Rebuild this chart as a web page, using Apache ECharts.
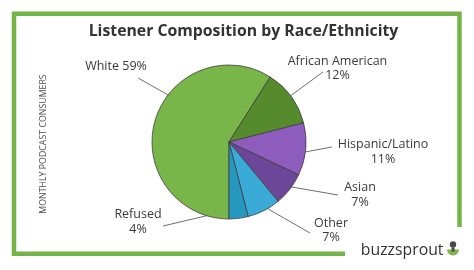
<!DOCTYPE html>
<html>
<head>
<meta charset="utf-8">
<script src="https://cdn.jsdelivr.net/npm/echarts@6/dist/echarts.min.js"></script>
<style>
html,body{margin:0;padding:0;background:#fff;}
#chart{width:474px;height:270px;}
</style>
</head>
<body>
<div id="chart"></div>
<script>
// ---- data ----
var categories = ['White', 'African American', 'Hispanic/Latino', 'Asian', 'Other', 'Refused'];
var shares = [59, 12, 11, 7, 7, 4];
var sliceColors = ['#78b649', '#558a2d', '#8d5cbd', '#6c4799', '#3aabd6', '#2697bf'];
var titleText = 'Listener Composition by Race/Ethnicity';
var axisNote = 'MONTHLY PODCAST CONSUMERS';
var brandText = 'buzzsprout';

// ---- layout ----
var CX = 229, CY = 142, R = 77, START = 270; // start at 6 o'clock, clockwise
// label centre, line anchor, line inner depth (fraction of R) and angle tweak
var labelLayouts = [
  {x: 116, y: 66.5, lx: 138, ly: 78, depth: 0.53, dAng: 29, oneLine: true},
  {x: 337.5, y: 68.5, lx: 323, ly: 72, depth: 0.83, dAng: -1},
  {x: 383, y: 152, lx: 332, ly: 147, depth: 0.77, dAng: 7.6},
  {x: 360, y: 195, lx: 338, ly: 195, depth: 0.79, dAng: 5.6},
  {x: 331, y: 230.5, lx: 310, ly: 233, depth: 0.86, dAng: 2.5},
  {x: 138, y: 222, lx: 163, ly: 226, depth: 0.87, dAng: 0}
];

var total = shares.reduce(function (a, b) { return a + b; }, 0);
var midAngles = [];
(function () {
  var acc = 180; // clockwise from 12 o'clock
  shares.forEach(function (v) {
    var span = v / total * 360;
    midAngles.push(acc + span / 2);
    acc += span;
  });
})();

var chart = echarts.init(document.getElementById('chart'), null, {renderer: 'canvas'});
var FONT = '"Open Sans", "Noto Sans", sans-serif';

var option = {
  animation: false,
  backgroundColor: '#ffffff',
  graphic: [
    {
      type: 'polyline',
      shape: {points: [[345, 253.7], [14, 253.7], [14, 13.7], [459.5, 13.7], [459.5, 227]]},
      style: {stroke: '#74b44b', lineWidth: 4.5, fill: null, lineJoin: 'miter'}
    },
    {
      type: 'text', x: 243.5, y: 31.5,
      style: {text: titleText, font: 'bold 15.8px ' + FONT, fill: '#333333', textAlign: 'center', textVerticalAlign: 'middle'}
    },
    {
      type: 'text', x: 43.5, y: 144, rotation: Math.PI / 2,
      style: {text: axisNote, font: '8.8px ' + FONT, fill: '#4a4a4a', textAlign: 'center', textVerticalAlign: 'middle'}
    },
    {
      type: 'text', x: 443.5, y: 250,
      style: {text: brandText, font: '500 15.8px ' + FONT, fill: '#333333', textAlign: 'right', textVerticalAlign: 'middle'}
    },
    {
      type: 'group', x: 453, y: 248.5,
      children: [
        {type: 'sector', shape: {cx: 0, cy: 1, r0: 0, r: 6, startAngle: 0, endAngle: Math.PI}, style: {fill: '#7ab648'}},
        {type: 'rect', shape: {x: -1.5, y: -1, width: 3, height: 4}, style: {fill: '#4a4a4a'}},
        {type: 'circle', shape: {cx: 0, cy: -4, r: 3.2}, style: {fill: '#4a4a4a'}}
      ]
    }
  ],
  series: [{
    type: 'pie',
    center: [CX, CY],
    radius: R,
    startAngle: START,
    clockwise: true,
    avoidLabelOverlap: false,
    data: categories.map(function (c, i) {
      return {name: c, value: shares[i], itemStyle: {color: sliceColors[i]}};
    }),
    itemStyle: {borderColor: '#3d3d3d', borderWidth: 0.8},
    label: {
      show: true,
      position: 'outside',
      fontFamily: FONT,
      fontSize: 12.5,
      lineHeight: 14.5,
      color: '#3a3a3a',
      align: 'center',
      formatter: function (p) {
        var L = labelLayouts[p.dataIndex];
        return L.oneLine ? p.name + ' ' + p.value + '%' : p.name + '\n' + p.value + '%';
      }
    },
    labelLine: {show: true, lineStyle: {color: '#707070', width: 1}},
    labelLayout: function (p) {
      var L = labelLayouts[p.dataIndex];
      var a = (midAngles[p.dataIndex] + L.dAng) * Math.PI / 180;
      var ix = CX + R * L.depth * Math.sin(a);
      var iy = CY - R * L.depth * Math.cos(a);
      return {
        x: L.x, y: L.y, align: 'center', verticalAlign: 'middle',
        labelLinePoints: [[L.lx, L.ly], [L.lx, L.ly], [ix, iy]]
      };
    },
    emphasis: {disabled: true}
  }]
};
chart.setOption(option);
</script>
</body>
</html>
